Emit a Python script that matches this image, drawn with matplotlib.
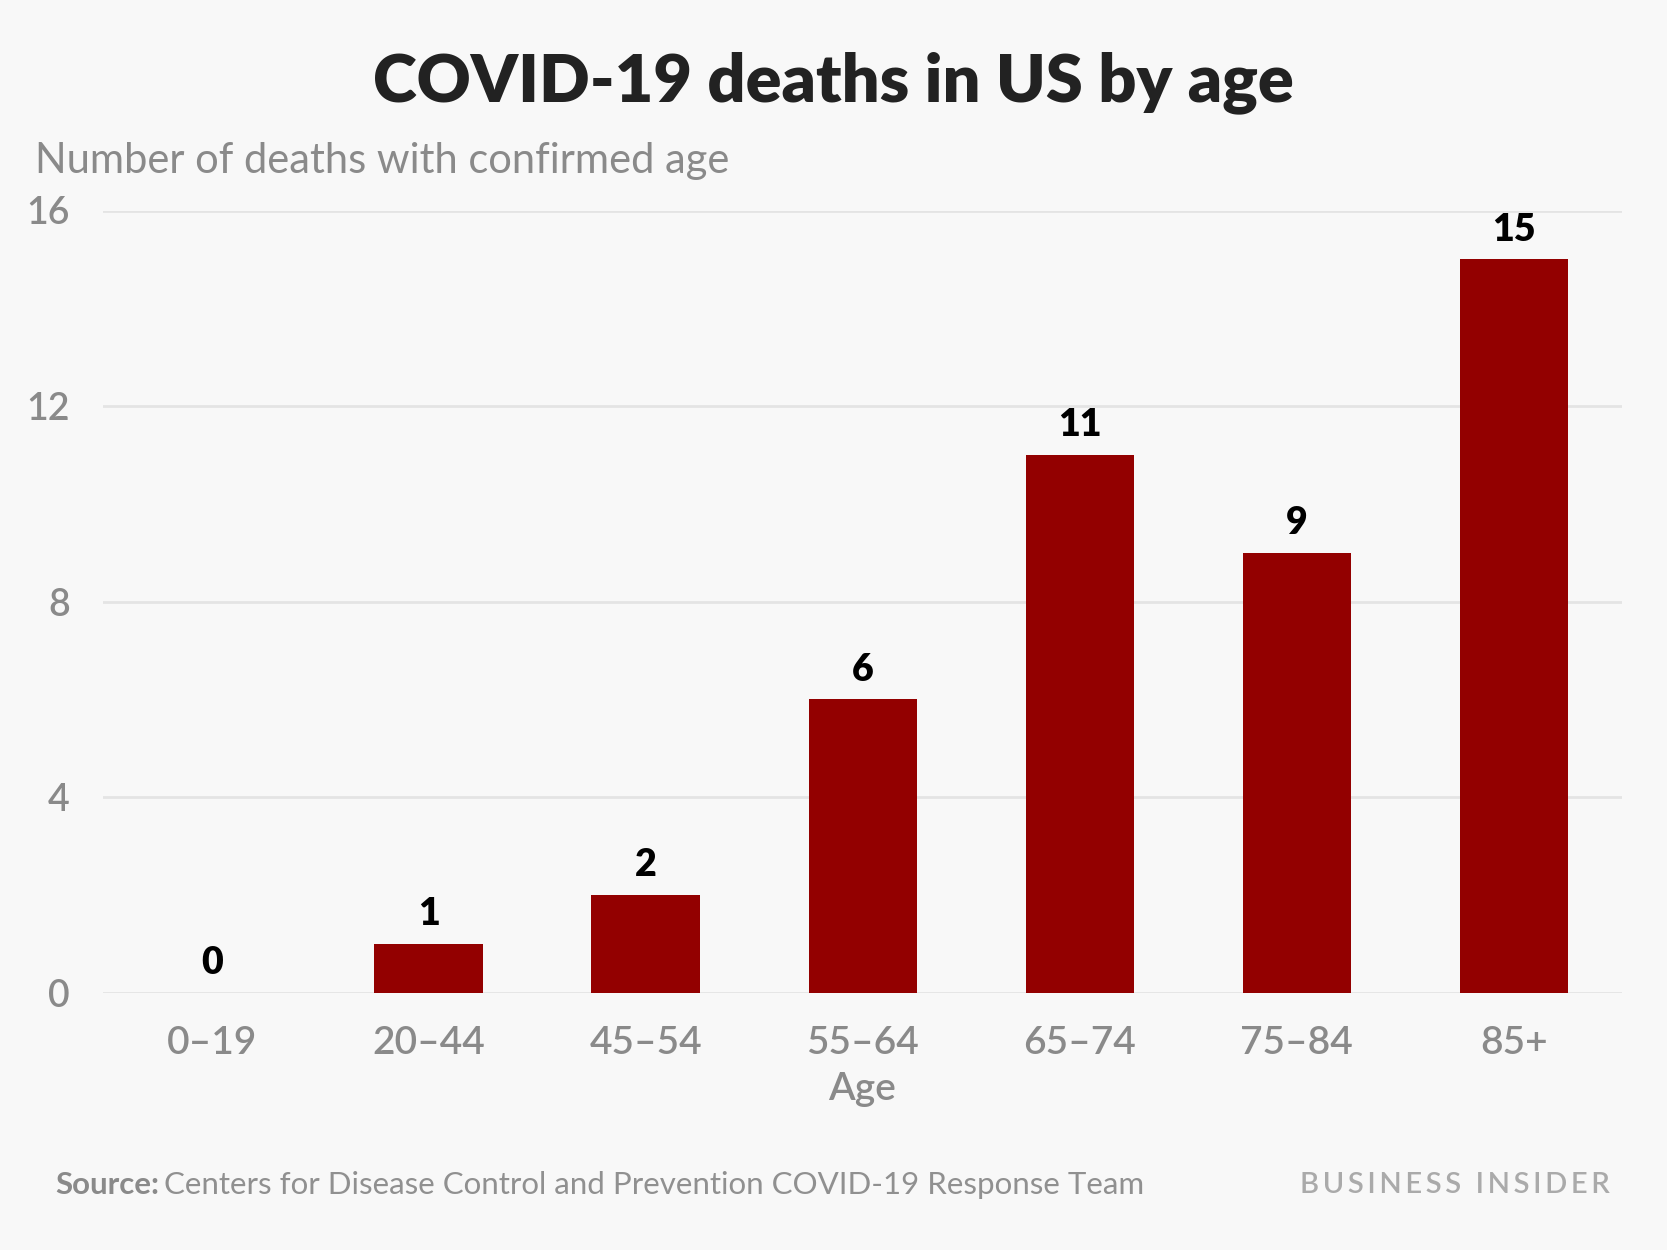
import matplotlib.pyplot as plt

ages = ["0\u201319", "20\u201344", "45\u201354", "55\u201364", "65\u201374", "75\u201384", "85+"]
deaths = [0, 1, 2, 6, 11, 9, 15]
yticks = [0, 4, 8, 12, 16]

BG = "#f8f8f8"
BAR = "#930000"
GRAY = "#8a8a8a"

plt.rcParams["font.family"] = ["Lato", "DejaVu Sans"]

fig = plt.figure(figsize=(16.67, 12.5), dpi=100, facecolor=BG)
ax = fig.add_axes([0.0619, 0.2058, 0.9113, 0.6258], facecolor=BG)

x = range(len(ages))
bars = ax.bar(x, deaths, width=0.5, color=BAR, zorder=3)

# value labels
for xi, v in zip(x, deaths):
    ax.annotate(str(v), (xi, v), xytext=(0, 9), textcoords="offset points",
                ha="center", va="bottom", fontsize=27, fontweight="heavy", color="black")

ax.set_xlim(-0.5, len(ages) - 0.5)
ax.set_ylim(0, 16)
ax.set_yticks(yticks)
ax.set_xticks(list(x))
ax.set_xticklabels(ages)
ax.grid(axis="y", color="#e4e4e4", linewidth=2, zorder=0)
ax.tick_params(axis="y", length=0, pad=24, labelsize=27, labelcolor=GRAY)
ax.tick_params(axis="x", length=0, pad=23, labelsize=28, labelcolor=GRAY)
for lab in ax.get_xticklabels() + ax.get_yticklabels():
    lab.set_fontweight("semibold")
for s in ax.spines.values():
    s.set_visible(False)

fig.text(0.5, 0.934, "COVID-19 deaths in US by age", ha="center", va="center",
         fontsize=48, fontweight="heavy", color="#222222")
fig.text(0.021, 0.871, "Number of deaths with confirmed age", ha="left", va="center",
         fontsize=30, color=GRAY)
fig.text(0.517, 0.129, "Age", ha="center", va="center", fontsize=28,
         fontweight="semibold", color=GRAY)
src = fig.text(0.033, 0.052, "Source:", ha="left", va="center", fontsize=22.5,
               fontweight="bold", color=GRAY)
fig.canvas.draw()
bb = src.get_window_extent()
fig.text(bb.x1 / fig.bbox.width + 0.003, 0.052,
         "Centers for Disease Control and Prevention COVID-19 Response Team",
         ha="left", va="center", fontsize=22.5, color="#909090")
brand = "\u2009".join("BUSINESS") + "\u2009\u2009 " + "\u2009".join("INSIDER")
fig.text(0.966, 0.052, brand, ha="right", va="center", fontsize=21,
         fontweight="semibold", color="#aaaaaa")

fig.savefig("out.png", dpi=100, facecolor=BG)
